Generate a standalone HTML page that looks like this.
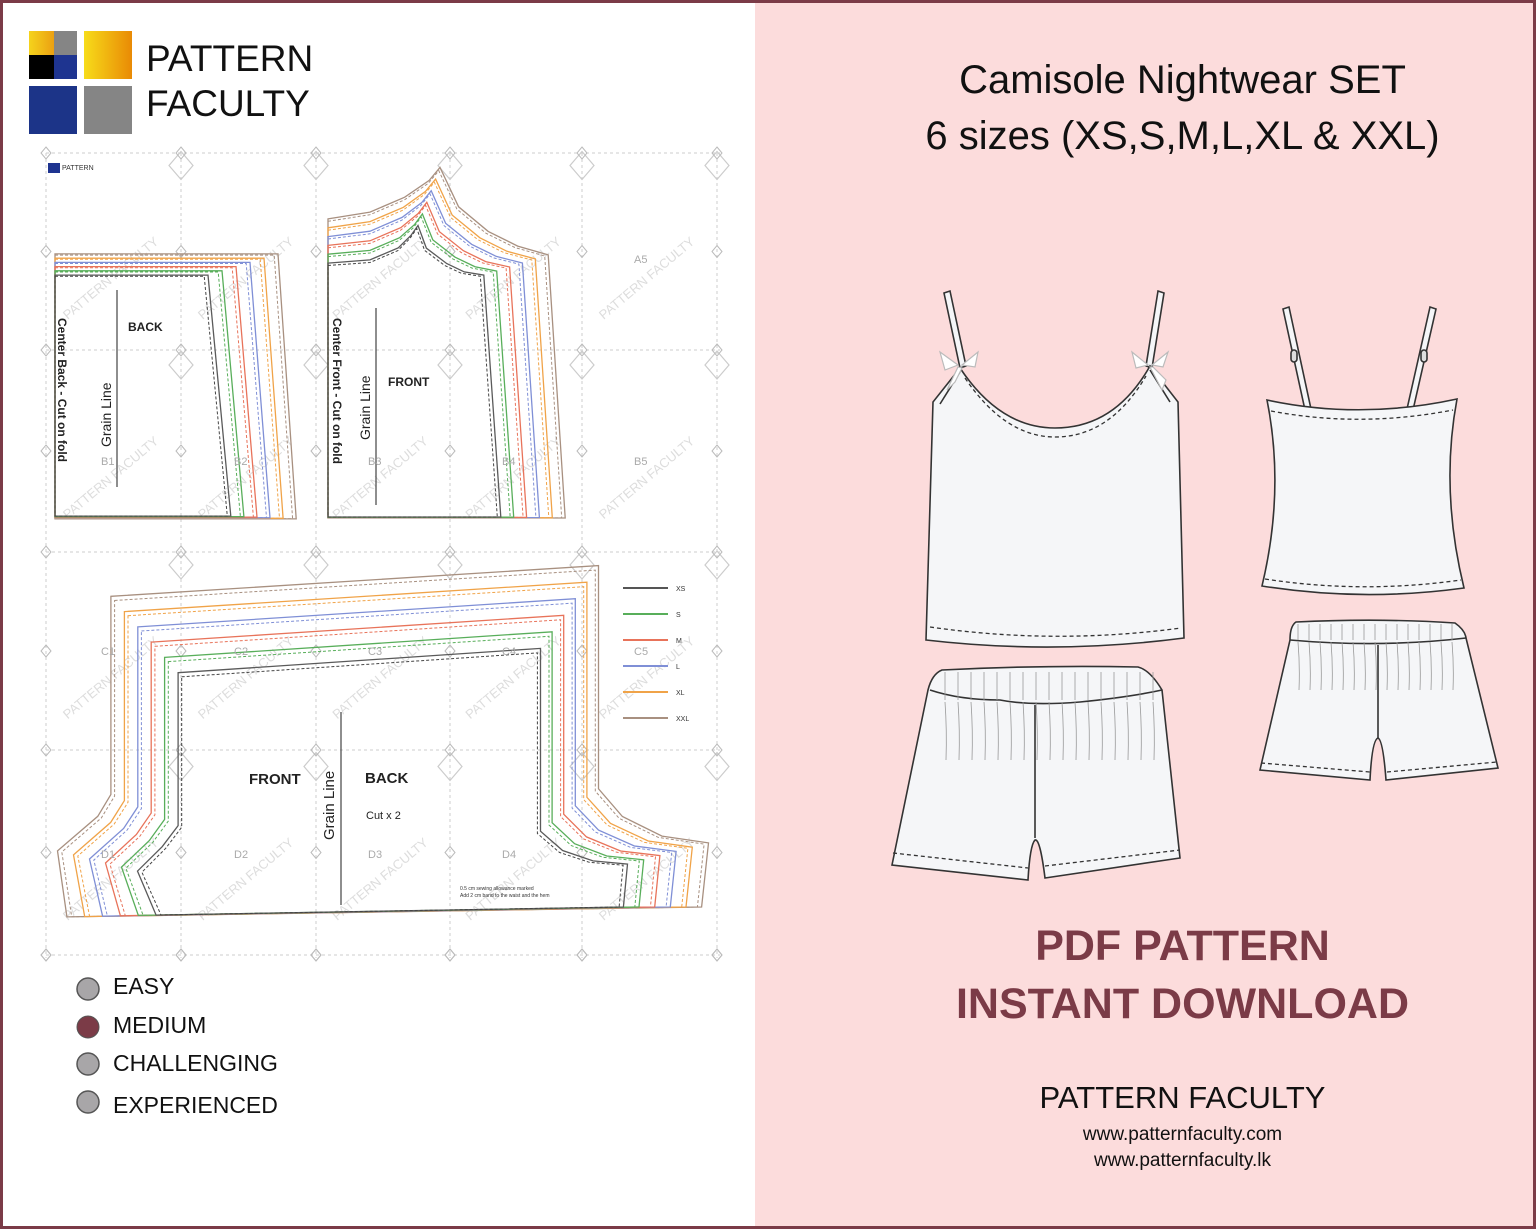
<!DOCTYPE html>
<html><head><meta charset="utf-8">
<style>
html,body{margin:0;padding:0}
body{width:1536px;height:1229px;position:relative;overflow:hidden;font-family:"Liberation Sans","DejaVu Sans",sans-serif;background:#fff}
#frame{position:absolute;left:0;top:0;width:1536px;height:1229px;box-sizing:border-box;border:3px solid #7b3b47;pointer-events:none}
#right{position:absolute;left:755px;top:0;width:781px;height:1229px;background:#fcdcdc}
.t{position:absolute;white-space:nowrap}
</style></head><body>
<div id="right"></div>
<svg id="s" width="1536" height="1229" style="position:absolute;left:0;top:0" xmlns="http://www.w3.org/2000/svg">
<defs>
<linearGradient id="gy" x1="0" x2="1"><stop offset="0" stop-color="#f7dc1a"/><stop offset="1" stop-color="#e98a05"/></linearGradient>
<linearGradient id="gy2" x1="0" x2="1"><stop offset="0" stop-color="#f5d31c"/><stop offset="1" stop-color="#eba012"/></linearGradient>
</defs>
<rect x="29" y="31" width="25" height="24" fill="url(#gy2)"/>
<rect x="54" y="31" width="23" height="24" fill="#858585"/>
<rect x="29" y="55" width="25" height="24" fill="#000"/>
<rect x="54" y="55" width="23" height="24" fill="#1e3490"/>
<rect x="84" y="31" width="48" height="48" fill="url(#gy)"/>
<rect x="29" y="86" width="48" height="48" fill="#1c3488"/>
<rect x="84" y="86" width="48" height="48" fill="#858585"/>
<g id="grid"></g>
<g id="pieces"></g>
<g id="fg"></g>
<circle cx="88" cy="989" r="11" fill="#a8a6a8" stroke="#555" stroke-width="1.5"/>
<circle cx="88" cy="1027" r="11" fill="#7b3b47" stroke="#555" stroke-width="1"/>
<circle cx="88" cy="1064" r="11" fill="#a8a6a8" stroke="#555" stroke-width="1.5"/>
<circle cx="88" cy="1102" r="11" fill="#a8a6a8" stroke="#555" stroke-width="1.5"/>

<g stroke="#333" stroke-width="1.6" fill="#f5f6f8">
<path d="M944 293 L950 291 L966 366 L960 368 Z"/>
<path d="M1158 291 L1164 293 L1152 368 L1146 366 Z"/>
<path d="M960 368 Q1000 428 1055 428 Q1115 428 1150 366 L1178 402 L1184 638 Q1055 655 926 640 L933 402 Z"/>
<path d="M940 404 L960 372" fill="none"/>
<path d="M1170 402 L1150 370" fill="none"/>
<path d="M965 378 Q1005 437 1055 437 Q1110 437 1146 376" fill="none" stroke-dasharray="4 3" stroke-width="1.3"/>
<path d="M930 627 Q1055 645 1181 628" fill="none" stroke-dasharray="4 3" stroke-width="1.3"/>
</g>
<g stroke="#bbb" stroke-width="1.2" fill="#fff">
<path d="M958 365 L940 352 L945 370 Z"/><path d="M962 365 L978 352 L975 367 Z"/><path d="M958 367 L947 390 L955 382 L962 368Z"/>
<path d="M1148 365 L1132 352 L1136 368 Z"/><path d="M1152 365 L1168 352 L1163 367 Z"/><path d="M1150 367 L1162 390 L1166 380 L1153 367Z"/>
</g>
<g stroke="#333" stroke-width="1.6" fill="#f5f6f8">
<path d="M942 670 Q1040 665 1138 667 Q1150 670 1162 690 L1180 858 L1045 878 Q1040 838 1035 840 Q1030 845 1028 880 L892 865 L928 690 Q932 674 942 670 Z"/>
<path d="M930 690 Q960 700 1000 700 Q1030 706 1080 702 Q1130 697 1162 690" fill="none"/>
<path d="M1035 705 L1035 838" fill="none"/>
<path d="M893 853 L1028 868 M1045 866 L1180 850" fill="none" stroke-dasharray="4 3" stroke-width="1.3"/>
</g>
<g stroke="#999" stroke-width="0.8" fill="none" id="pleats1"></g>
<g stroke="#333" stroke-width="1.6" fill="#f5f6f8">
<path d="M1283 309 L1289 307 L1311 409 L1305 410 Z"/>
<path d="M1430 307 L1436 309 L1413 410 L1407 409 Z"/>
<rect x="1291" y="350" width="6" height="12" rx="3" fill="#ddd"/>
<rect x="1421" y="350" width="6" height="12" rx="3" fill="#ddd"/>
<path d="M1267 400 Q1360 420 1457 399 Q1440 490 1464 588 Q1362 602 1262 586 Q1285 490 1267 400 Z"/>
<path d="M1271 411 Q1360 428 1453 410" fill="none" stroke-dasharray="4 3" stroke-width="1.3"/>
<path d="M1265 579 Q1362 594 1461 580" fill="none" stroke-dasharray="4 3" stroke-width="1.3"/>
</g>
<g stroke="#333" stroke-width="1.6" fill="#f5f6f8">
<path d="M1296 622 Q1380 618 1455 623 Q1465 630 1466 638 L1498 768 L1386 780 Q1383 740 1378 738 Q1372 740 1370 780 L1260 770 L1290 640 Q1290 626 1296 622 Z"/>
<path d="M1290 640 Q1380 648 1466 638" fill="none"/>
<path d="M1378 645 L1378 738" fill="none"/>
<path d="M1261 763 L1370 772 M1387 772 L1497 762" fill="none" stroke-dasharray="4 3" stroke-width="1.3"/>
</g>
<g stroke="#999" stroke-width="0.8" fill="none" id="pleats2"></g>
</svg>

<div class="t" style="left:146px;top:36px;font-size:37px;color:#111;line-height:45px">PATTERN<br>FACULTY</div>
<div class="t" style="left:113px;top:973px;font-size:23px;color:#111">EASY</div>
<div class="t" style="left:113px;top:1012px;font-size:23px;color:#111">MEDIUM</div>
<div class="t" style="left:113px;top:1050px;font-size:23px;color:#111">CHALLENGING</div>
<div class="t" style="left:113px;top:1092px;font-size:23px;color:#111">EXPERIENCED</div>

<div class="t" style="left:855px;width:655px;text-align:center;top:58px;font-size:40px;color:#111">Camisole Nightwear SET</div>
<div class="t" style="left:855px;width:655px;text-align:center;top:114px;font-size:40px;color:#111">6 sizes (XS,S,M,L,XL &amp; XXL)</div>
<div class="t" style="left:855px;width:655px;text-align:center;top:922px;font-size:43px;font-weight:bold;color:#7b3b47">PDF PATTERN</div>
<div class="t" style="left:855px;width:655px;text-align:center;top:980px;font-size:43px;font-weight:bold;color:#7b3b47">INSTANT DOWNLOAD</div>
<div class="t" style="left:855px;width:655px;text-align:center;top:1080px;font-size:31px;color:#111">PATTERN FACULTY</div>
<div class="t" style="left:855px;width:655px;text-align:center;top:1124px;font-size:19px;color:#111">www.patternfaculty.com</div>
<div class="t" style="left:855px;width:655px;text-align:center;top:1150px;font-size:19px;color:#111">www.patternfaculty.lk</div>
<div id="frame"></div>

<script>
var NS="http://www.w3.org/2000/svg";
function el(p,tag,a,txt){var e=document.createElementNS(NS,tag);for(var k in a)e.setAttribute(k,a[k]);if(txt)e.textContent=txt;p.appendChild(e);return e;}
var G=document.getElementById("grid"),P=document.getElementById("pieces"),F=document.getElementById("fg");
var xs=[46,181,316,450,582,717],ys=[153,350,552,750,955];
xs.forEach(function(x){el(G,"line",{x1:x,y1:153,x2:x,y2:958,stroke:"#ccc","stroke-dasharray":"3 3","stroke-width":1});});
ys.forEach(function(y){el(G,"line",{x1:46,y1:y,x2:720,y2:y,stroke:"#ccc","stroke-dasharray":"3 3","stroke-width":1});});
el(G,"rect",{x:47,y:157,width:48,height:20,fill:"#fff"});
el(G,"rect",{x:48,y:163,width:12,height:10,fill:"#1e3490"});
el(G,"text",{x:62,y:170,"font-size":7,fill:"#333"},"PATTERN");
for(var i=0;i<xs.length;i++)for(var j=0;j<ys.length;j++){
 [[xs[i],ys[j]],[xs[i],(ys[j]+ (ys[j+1]||ys[j]))/2]].forEach(function(p){
  el(G,"path",{d:"M"+p[0]+" "+(p[1]-6)+"l5 6l-5 6l-5-6z",fill:"none",stroke:"#bbb","stroke-width":1});});
 if(i<xs.length-1&&j<ys.length-1){
  var cx=(xs[i]+xs[i+1])/2,cy=(ys[j]+ys[j+1])/2;
  el(G,"path",{d:"M"+xs[i+1]+" "+(cy-100)+"l12 14l-12 14l-12-14z",fill:"none",stroke:"#ccc","stroke-width":1.2});
  el(G,"text",{x:cx,y:cy+30,"font-size":13,fill:"#ddd","text-anchor":"middle",transform:"rotate(-40 "+cx+" "+(cy+30)+")"},"PATTERN FACULTY");
 }}
var cols=["#5a5a5a","#58ae5a","#e8735a","#7f8fd6","#f0a348","#a89080"];
function interp(A,B,t){return A.map(function(p,i){return [p[0]+(B[i][0]-p[0])*t,p[1]+(B[i][1]-p[1])*t];});}
function d(pts){return "M"+pts.map(function(p){return p[0].toFixed(1)+" "+p[1].toFixed(1);}).join(" L")+" Z";}
function piece(XS,XXL){
 for(var k=5;k>=0;k--){
  var t=k/5*0.92+0.04;
  el(P,"path",{d:d(interp(XS,XXL,t)),fill:"none",stroke:cols[k],"stroke-width":1.3});
  el(P,"path",{d:d(interp(XS,XXL,t-0.05)),fill:"none",stroke:k==0?"#444":cols[k],"stroke-width":1,"stroke-dasharray":"3 2"});
 }
}
piece([[55,276],[205,276],[228,516],[55,516]],[[55,253],[281,253],[299,519],[55,519]]);
piece([[328,265],[370,262],[398,250],[410,238],[417,228],[425,250],[445,265],[462,273],[481,276],[498,517],[328,517]],
      [[328,217],[370,210],[405,195],[430,178],[441,165],[460,205],[490,230],[520,245],[551,254],[568,518],[328,518]]);
piece([[181,676],[538,652],[538,833],[560,852],[590,862],[624,865],[620,907],[160,915],[141,872],[165,848],[181,827]],
      [[108,593],[601,562],[601,787],[625,815],[665,835],[712,842],[705,907],[63,917],[54,850],[95,815],[108,793]]);
var nm=["XS","S","M","L","XL","XXL"],lc=["#555","#58ae5a","#e8735a","#7f8fd6","#f0a348","#a89080"];
for(var k=0;k<6;k++){var y=588+k*26;el(F,"line",{x1:623,y1:y,x2:668,y2:y,stroke:lc[k],"stroke-width":2});el(F,"text",{x:676,y:y+3,"font-size":7,fill:"#333"},nm[k]);}
function txt(x,y,s,sz,opt){var a={x:x,y:y,"font-size":sz,fill:"#222","font-weight":"bold"};for(var k in opt)a[k]=opt[k];return el(F,"text",a,s);}
txt(128,331,"BACK",12);txt(388,386,"FRONT",12);
txt(249,784,"FRONT",15);txt(365,783,"BACK",15);txt(366,819,"Cut x 2",11,{"font-weight":"normal"});
txt(58,318,"Center Back - Cut on fold",12,{transform:"rotate(90 58 318)"});
txt(111,447,"Grain Line",14,{transform:"rotate(-90 111 447)","font-weight":"normal"});
txt(333,318,"Center Front - Cut on fold",12,{transform:"rotate(90 333 318)"});
txt(370,440,"Grain Line",14,{transform:"rotate(-90 370 440)","font-weight":"normal"});
txt(334,840,"Grain Line",15,{transform:"rotate(-90 334 840)","font-weight":"normal"});
[[117,290,487],[376,308,505],[341,712,905]].forEach(function(g){el(F,"line",{x1:g[0],y1:g[1],x2:g[0],y2:g[2],stroke:"#444","stroke-width":1.2});});
[["A5",634,263],["B1",101,465],["B2",234,465],["B3",368,465],["B4",502,465],["B5",634,465],["C1",101,655],["C2",234,655],["C3",368,655],["C4",502,655],["C5",634,655],["D1",101,858],["D2",234,858],["D3",368,858],["D4",502,858]].forEach(function(l){el(F,"text",{x:l[1],y:l[2],"font-size":11,fill:"#aaa"},l[0]);});
el(F,"text",{x:460,y:890,"font-size":5,fill:"#333"},"0.5 cm sewing allowance marked");
el(F,"text",{x:460,y:897,"font-size":5,fill:"#333"},"Add 2 cm band to the waist and the hem");
var p1=document.getElementById("pleats1");
for(var x=945;x<1160;x+=13){el(p1,"path",{d:"M"+x+" 672 L"+x+" 700 M"+x+" 702 Q"+(x+2)+" 730 "+(x+1)+" 760"});}
var p2=document.getElementById("pleats2");
for(var x=1298;x<1460;x+=11){el(p2,"path",{d:"M"+x+" 624 L"+x+" 640 M"+x+" 642 Q"+(x+2)+" 665 "+(x+1)+" 690"});}
</script>
</body></html>
